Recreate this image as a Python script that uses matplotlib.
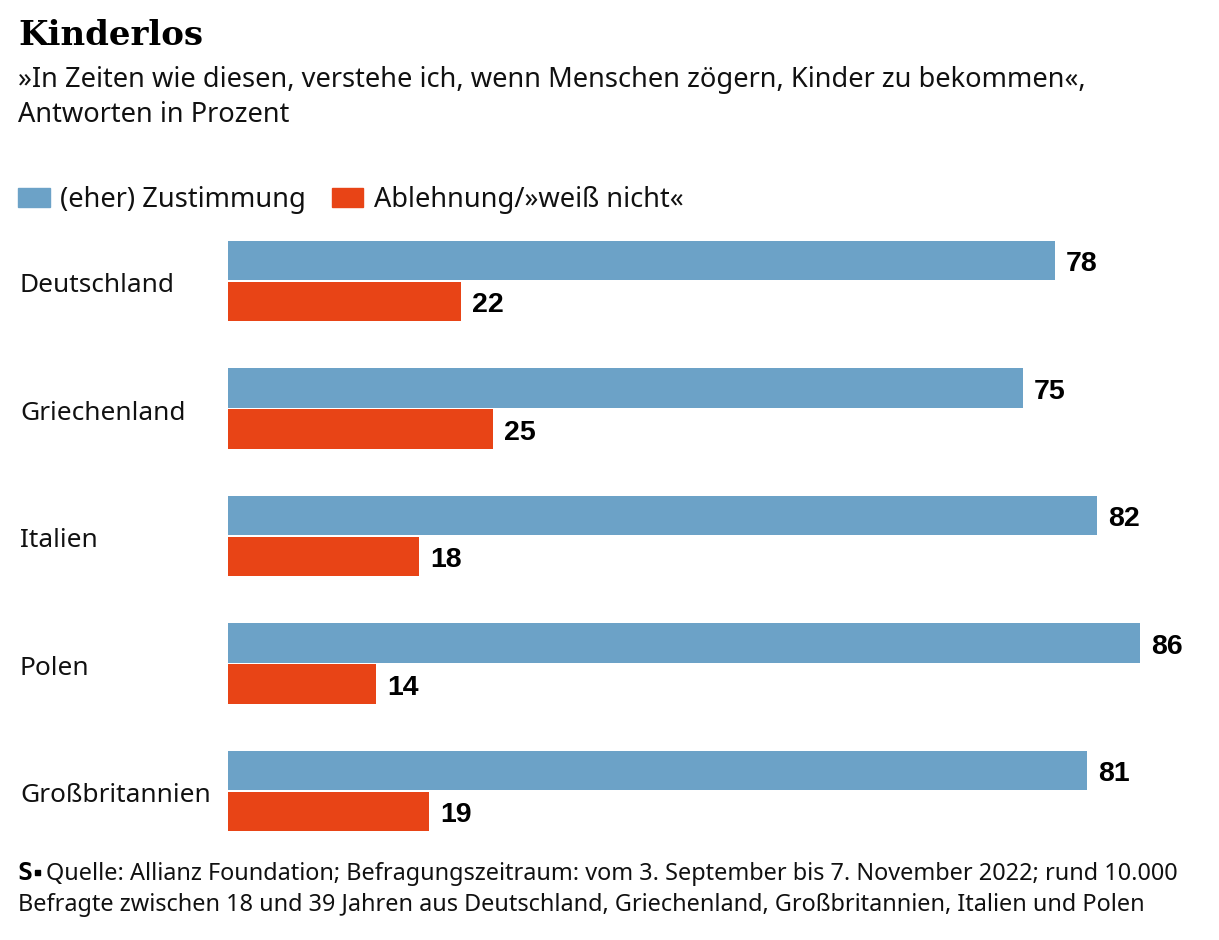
import matplotlib
matplotlib.use("Agg")
import matplotlib.pyplot as plt
from matplotlib.patches import Rectangle

countries = ["Deutschland", "Griechenland", "Italien", "Polen", "Großbritannien"]
zustimmung = [78, 75, 82, 86, 81]
ablehnung = [22, 25, 18, 14, 19]
series_labels = ["(eher) Zustimmung", "Ablehnung/»weiß nicht«"]

title = "Kinderlos"
subtitle_lines = ["»In Zeiten wie diesen, verstehe ich, wenn Menschen zögern, Kinder zu bekommen«,",
                  "Antworten in Prozent"]
source_lines = ["Quelle: Allianz Foundation; Befragungszeitraum: vom 3. September bis 7. November 2022; rund 10.000",
                "Befragte zwischen 18 und 39 Jahren aus Deutschland, Griechenland, Großbritannien, Italien und Polen"]

BLUE = "#6CA2C7"
RED = "#E84416"
TXT = "#111111"
SANS = ["Noto Sans", "DejaVu Sans"]

W, H = 1219, 940
fig = plt.figure(figsize=(W / 100, H / 100), dpi=100)


def fx(x):
    return x / W


def fy(y):
    return 1 - y / H


# axes area in pixels
left, right, top, bottom = 228, 1219, 241, 831
ax = fig.add_axes([fx(left), fy(bottom), (right - left) / W, (bottom - top) / H])
px_per_unit = 10.6
ax.set_xlim(0, (right - left) / px_per_unit)
spacing = 127.5
half = 40 / spacing
ax.set_ylim(len(countries) - 1 + half, -half)
ax.axis("off")

bh = 39.5 / spacing
off = 20.5 / spacing
ys = list(range(len(countries)))
ax.barh([y - off for y in ys], zustimmung, height=bh, color=BLUE, align="center")
ax.barh([y + off for y in ys], ablehnung, height=bh, color=RED, align="center")

VAL_FONT = dict(fontsize=20.5, fontweight="bold", family=["Liberation Sans", "DejaVu Sans"], color="#000000")
for y, v in zip(ys, zustimmung):
    ax.annotate(str(v), xy=(v, y - off), xytext=(8, -7.6), textcoords="offset points",
                ha="left", va="baseline", **VAL_FONT)
for y, v in zip(ys, ablehnung):
    ax.annotate(str(v), xy=(v, y + off), xytext=(8, -7.6), textcoords="offset points",
                ha="left", va="baseline", **VAL_FONT)

for y, name in zip(ys, countries):
    ax.text((20 - left) / (right - left), y + 11 / spacing, name,
            transform=ax.get_yaxis_transform(), ha="left", va="baseline",
            fontsize=18.9, family=SANS, color=TXT)

# title & subtitle
fig.text(fx(18), fy(45), title, ha="left", va="baseline", fontsize=24.5,
         fontweight="heavy", family=["DejaVu Serif"], color="#000000")
fig.text(fx(18), fy(87.5), subtitle_lines[0], ha="left", va="baseline", fontsize=19.6,
         family=SANS, color=TXT)
fig.text(fx(18), fy(122.5), subtitle_lines[1], ha="left", va="baseline", fontsize=19.6,
         family=SANS, color=TXT)

# legend
fig.patches.append(Rectangle((fx(18), fy(207)), 32 / W, 19 / H, transform=fig.transFigure,
                             color=BLUE))
fig.text(fx(60), fy(207), series_labels[0], ha="left", va="baseline", fontsize=19.6,
         family=SANS, color=TXT)
fig.patches.append(Rectangle((fx(332), fy(207)), 31 / W, 19 / H, transform=fig.transFigure,
                             color=RED))
fig.text(fx(374), fy(207), series_labels[1], ha="left", va="baseline", fontsize=19.6,
         family=SANS, color=TXT)

# source
fig.text(fx(17), fy(880), "S", ha="left", va="baseline", fontsize=18, fontweight="bold",
         family=["DejaVu Sans Mono", "DejaVu Sans"], color="#000000")
fig.patches.append(Rectangle((fx(35), fy(875)), 5 / W, 5 / H, transform=fig.transFigure,
                             color="#000000"))
fig.text(fx(46), fy(880), source_lines[0], ha="left", va="baseline", fontsize=16.9,
         family=SANS, color=TXT)
fig.text(fx(18), fy(911), source_lines[1], ha="left", va="baseline", fontsize=16.9,
         family=SANS, color=TXT)

fig.savefig("out.png", dpi=100, facecolor="white")
